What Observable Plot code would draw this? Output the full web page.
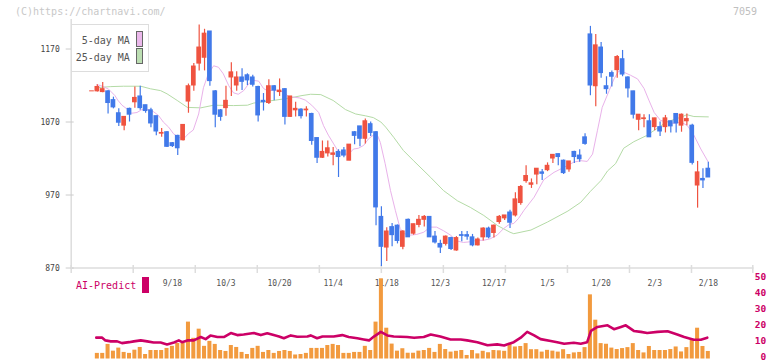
<!DOCTYPE html>
<html><head><meta charset="utf-8">
<script src="https://cdn.jsdelivr.net/npm/d3@7"></script>
<script src="https://cdn.jsdelivr.net/npm/@observablehq/plot@0.6"></script>
<style>
body{margin:0;background:#fff;}
#wrap{position:relative;width:772px;height:361px;overflow:hidden;font-family:"DejaVu Sans Mono",monospace;background:#fff;}
#wrap svg{position:absolute;left:0;top:0;}
.ov{position:absolute;z-index:3;white-space:pre;line-height:12px;}
</style></head><body>
<div id="wrap">
  <div class="ov" style="left:15px;top:6px;font-size:10px;color:#c8c8c8;">(C)https://chartnavi.com/</div>
  <div class="ov" style="right:15px;top:6px;font-size:10px;color:#c0c0c0;">7059</div>
  <div class="ov" style="left:70.5px;top:23.5px;width:78px;height:48px;box-sizing:border-box;border:1px solid #ddd;background:#fff;">
    <span style="position:absolute;right:17.7px;top:10px;font-size:10px;color:#555;line-height:12px;">5-day MA</span>
    <span style="position:absolute;right:17.7px;top:27px;font-size:10px;color:#555;line-height:12px;">25-day MA</span>
    <div style="position:absolute;left:64.5px;top:6.5px;width:7px;height:15.5px;box-sizing:border-box;border:1px solid #666;background:#ebb8eb;"></div>
    <div style="position:absolute;left:64.5px;top:23.8px;width:7px;height:15.5px;box-sizing:border-box;border:1px solid #666;background:#bcdeb2;"></div>
  </div>
  <div class="ov" style="left:76px;top:280px;font-size:10px;color:#cc0066;">AI-Predict</div>
  <div class="ov" style="left:142.3px;top:277.3px;width:6.7px;height:15.4px;background:#cc0066;"></div>
</div>
<script>
// ---- data ----
const openP = [1112,1112,1111,1112,1100,1082,1065,1088,1097,1105,
  1093,1086,1078,1054,1056,1041,1051,1045,1098,1120,
  1150,1158,1194,1112,1086,1089,1131,1120,1131,1134,
  1131,1118,1099,1096,1119,1111,1115,1077,1086,1087,
  1086,1081,1048,1021,1027,1025,1029,1031,1017,1056,
  1064,1047,1067,1056,940,898,926,928,899,936,
  917,929,936,940,913,903,903,911,894,915,
  915,912,901,912,924,918,933,938,946,942,
  959,989,984,998,1001,1004,1020,1026,1017,1005,
  1029,1024,1049,1190,1119,1172,1119,1137,1141,1156,
  1131,1112,1073,1074,1071,1063,1063,1063,1071,1081,
  1065,1071,1065,983,992,1006];
const highP = [1112,1121,1124,1113,1104,1088,1077,1089,1118,1119,
  1093,1089,1078,1061,1057,1042,1052,1066,1122,1150,
  1203,1197,1194,1113,1087,1119,1151,1139,1143,1136,
  1134,1119,1109,1128,1120,1129,1116,1105,1097,1088,
  1091,1082,1048,1044,1044,1035,1032,1035,1039,1057,
  1064,1074,1070,1057,954,925,931,929,921,937,
  930,942,942,940,920,908,914,912,913,920,
  920,916,911,925,926,929,942,942,949,973,
  983,1010,992,1006,1005,1014,1025,1026,1018,1016,
  1030,1032,1054,1201,1190,1179,1132,1140,1161,1168,
  1132,1112,1080,1080,1080,1075,1070,1079,1071,1081,
  1081,1081,1067,1016,1006,1015];
const lowP = [1112,1111,1110,1081,1088,1064,1058,1070,1089,1086,
  1082,1062,1051,1049,1035,1035,1024,1044,1082,1112,
  1140,1140,1119,1062,1071,1078,1105,1112,1113,1120,
  1118,1070,1085,1094,1099,1105,1066,1076,1077,1074,
  1077,1038,1013,1020,1022,1010,994,1021,1017,1039,
  1036,1040,1050,928,872,879,899,903,895,912,
  915,925,926,912,903,890,900,894,893,906,
  908,899,900,907,910,911,930,935,924,940,
  956,986,979,984,990,1002,1013,1010,998,1001,
  1013,1015,1038,1106,1091,1130,1108,1118,1130,1132,
  1103,1074,1058,1062,1049,1058,1050,1055,1055,1055,
  1056,1065,1011,952,979,994];
const closeP = [1112,1118,1115,1096,1090,1069,1077,1080,1103,1089,
  1085,1068,1057,1055,1036,1037,1034,1066,1119,1146,
  1172,1191,1126,1080,1077,1099,1138,1131,1125,1127,
  1121,1079,1097,1119,1113,1113,1077,1105,1088,1078,
  1087,1044,1021,1029,1034,1027,1022,1024,1039,1051,
  1047,1071,1055,953,899,920,915,907,920,912,
  930,936,940,912,905,898,913,896,911,914,
  913,901,909,924,912,928,940,942,932,964,
  981,996,986,1006,999,1010,1025,1022,1000,1016,
  1022,1019,1040,1120,1175,1137,1115,1132,1159,1135,
  1116,1080,1080,1075,1049,1075,1057,1075,1064,1068,
  1080,1074,1014,1001,990,994];
const volume = [null,3.5,3.5,9.1,4.9,6.8,4.1,3.5,5.5,7.2,
  2.8,5.3,5.3,5.3,6.6,7.9,9.7,9.7,23,12.9,
  18.6,7.9,11,9.1,5.3,4.7,8.4,7.2,4.1,2.8,
  6.6,7.9,4.1,5.3,3.5,4.7,5.3,4.7,2.5,2.8,
  3.5,6.6,6.6,6.6,8.4,9.1,8.4,3.5,3.5,4.1,
  4.1,7.9,5.3,23,50,19.2,9.3,4.9,6.4,3.6,
  3.6,4.9,5.3,6.6,4.1,9.1,5.9,4.3,4.8,5.3,
  2.2,5.3,3.2,4.8,3.9,5.3,5.1,4.8,9.4,7.5,
  7.8,9.6,5.8,5.8,4.3,5.4,4.9,4.3,5.8,2.8,
  3.8,4.1,7.1,40,24.2,9.6,9.2,6.8,5.9,6.5,
  7.1,9.6,5.3,3.8,7.8,5.3,5.3,5.3,5.9,7.5,
  4.4,7.1,12.2,19.2,7.8,4.7];
// moving averages (day position, value)
const ma5Day = [0.9,1.6,3.1,4.3,4.8,5.6,6.5,7.4,8.4,9.3,10.5,11.5,12.4,13.3,14.3,15.2,16.1,17.1,18,18.9,
  19.9,20.8,21.7,22.7,23.6,24.5,25.5,26.4,27.3,28.3,29.2,30.1,31.1,32,32.9,33.9,34.8,35.7,36.7,37.6,
  38.7,39.8,41,42.3,43.2,44.1,45.1,46,46.9,47.9,48.8,49.7,50.7,51.6,52.5,53.3,53.8,54.7,55.7,56.6,
  57.5,58.3,59.4,60.6,61.9,63.1,64.3,65.6,66.9,68.1,69.3,70.7,71.8,73.1,74.3,75.6,76.8,77.9,78.7,79.6,
  80.6,82.5,84.3,86.2,88.1,89.9,91.2,92.4,93.4,94.3,95.2,96.5,97.4,98.3,99.3,100.5,101.8,103,103.9,104.9,
  106.1,107.4,108.6,109.9,111.1,112.3,113.6,115];
const ma5 = [1121,1120,1115,1106,1100,1093,1088,1082,1083,1087,1087,1084,1079,1070,1063,1054,1049,1047,1054,1059,
  1081,1117,1136,1147,1145,1136,1120,1110,1108,1113,1122,1127,1126,1116,1112,1114,1113,1111,1105,1104,
  1103,1100,1093,1083,1065,1052,1040,1029,1026,1026,1033,1034,1038,1047,1052,1051,1042,1013,976,949,
  924,917,915,916,919,926,926,921,915,907,905,906,908,908,910,915,924,930,931,938,
  949,967,991,1001,1008,1015,1017,1016,1026,1058,1090,1113,1129,1140,1138,1134,1129,1116,1100,1083,
  1072,1070,1068,1070,1065,1052,1033,1015];
const ma25Day = [0.8,3.5,5.9,9.1,10.9,12.8,14,15.9,17.8,20.3,22.7,26.4,29,30.2,34.3,37,39,40.8,42.7,45,
  47.3,49.2,51,52.5,53.9,54.8,56.3,58.1,60,63.2,65.6,68.2,70.6,73.1,75.7,78,78.7,81.9,85,88.8,
  91.2,93,95,96.2,97.7,99.2,101.1,103.5,105.4,107.2,109.9,111,112.3,115];
const ma25 = [1117,1118.5,1119,1119,1115.5,1113,1108.6,1099.5,1090,1089.4,1093,1092.5,1093,1096,1100,1103,1106,1108,1107.5,1099.5,
  1087,1081,1078.5,1076,1070,1063,1049,1031,1017,994,976,962,953,942,928,919,917,922,933,948,
  960,975,990,1003,1013,1034,1043,1051.5,1061,1070,1076.6,1080,1077.5,1077];
const aiDay = [0.8,1.9,2.5,3.5,4.7,5.6,6.9,7.8,9.1,10.3,11.5,12.8,14,15.3,16.2,16.8,17.8,19,20.3,21.2,
  22.1,23.4,24.6,25.9,27.1,28.3,30.2,31.5,32.7,33.9,34.9,35.8,37.1,38.3,40.2,40.8,42,43,45.1,46.7,
  47.9,49.5,50.7,51.7,52.6,53.9,55.1,56.3,58.8,60.1,61.9,63.2,65,66.9,68.8,70,71.9,73.8,75.6,76.9,
  78.7,80,81.2,82.5,83.7,85.6,86.8,88.1,89.9,91.2,92.4,93.1,94.3,96.2,97.4,98.7,99.6,101.1,102.4,103.6,
  105.5,107.4,109.2,110.5,112.3,113.6,114.8];
const aiPredict = [13.3,13.3,11.6,11,11,9.9,10.5,11,11.6,11,10.3,10.3,9.1,10.3,11.6,10.5,11.6,11.6,13.7,12.4,
  14.6,13.7,13.7,16.2,14.9,15.3,16.2,14.9,16,14.9,14,12.9,14.7,13.9,14,14.7,12.9,14,14,14.9,
  13.7,12.9,12.2,11.6,14,16.9,14.7,14,13.7,13.2,13.7,15.3,14,12.2,12.2,11.6,10.5,8.6,9.1,8.4,
  10.5,13.3,16.9,14.7,12.4,11.2,10.5,9.5,10.1,9.5,10.5,17.5,20,21,18.6,20,21,17.5,16.9,16.2,
  16.9,17.3,15.3,13.7,12,12,13.3];
const yTicks = [870, 970, 1070, 1170];
const volTicks = [0, 10, 20, 30, 40, 50];
const dateLabels = ["9/18","10/3","10/20","11/4","11/18","12/3","12/17","1/5","1/20","2/3","2/18"];
const dateDay = [15,25,35,45,55,65,75,85,95,105,115];
const gridTickDay = [-3.88,7.69,19.27,30.84,42.42,53.99,65.56,77.14,88.71,100.29,111.86,123.3];

// ---- build ----
const candles = openP.map((o, i) => ({i, o, h: highP[i], l: lowP[i], c: closeP[i]}));
const up = candles.filter(d => d.c >= d.o);
const down = candles.filter(d => d.c < d.o);
const RED = "#ef5340", BLUE = "#4179e9";
const labelMap = new Map(dateDay.map((d, k) => [d, dateLabels[k]]));
const ma5Data = ma5.map((v, k) => ({d: ma5Day[k], v}));
const ma25Data = ma25.map((v, k) => ({d: ma25Day[k], v}));
const aiData = aiPredict.map((v, k) => ({d: aiDay[k], v}));
const volData = volume.map((v, i) => ({i, v})).filter(d => d.v != null);
const xDomain = [-3.88, 123.3];
const styleStr = "background:transparent;font-family:'DejaVu Sans Mono',monospace;overflow:visible;";

const body = (data, color) => Plot.rect(data, {
  x1: d => d.i - 0.44, x2: d => d.i + 0.44, y1: "o", y2: "c",
  fill: color, insetTop: -0.5, insetBottom: -0.5
});

const price = Plot.plot({
  width: 772, height: 361,
  marginLeft: 70.7, marginRight: 19.7, marginTop: 19.3, marginBottom: 93.5,
  style: styleStr,
  x: {domain: xDomain},
  y: {domain: [870, 1210]},
  marks: [
    Plot.frame({anchor: "left", stroke: "#dddddd", strokeWidth: 1.5}),
    Plot.frame({anchor: "bottom", stroke: "#dddddd", strokeWidth: 1.5}),
    Plot.axisY({ticks: yTicks, tickSize: 8, dx: 3, tickPadding: 6.5, tickFormat: d => String(d), label: null,
      stroke: "#cccccc", fill: "#444", fontSize: 8}),
    Plot.axisX({ticks: gridTickDay, tickSize: 8, dy: -2.5, tickFormat: () => "", label: null, stroke: "#dddddd", strokeWidth: 1.5}),
    Plot.axisX({ticks: dateDay, tickSize: 0, tickPadding: 12.8, tickFormat: d => labelMap.get(d), label: null, fill: "#555", fontSize: 8}),
    Plot.line(ma25Data, {x: "d", y: "v", stroke: "#b4dba6", strokeWidth: 1}),
    Plot.line(ma5Data, {x: "d", y: "v", stroke: "#e9b2ea", strokeWidth: 1}),
    Plot.ruleX(up, {x: "i", y1: "l", y2: "h", stroke: RED, strokeWidth: 1.2}),
    Plot.ruleX(down, {x: "i", y1: "l", y2: "h", stroke: BLUE, strokeWidth: 1.2}),
    body(up, RED),
    body(down, BLUE)
  ]
});

const vol = Plot.plot({
  width: 772, height: 361,
  marginLeft: 70.7, marginRight: 19.7, marginTop: 278.3, marginBottom: 2.5,
  style: styleStr,
  x: {domain: xDomain, axis: null},
  y: {domain: [0, 50]},
  marks: [
    Plot.rect(volData, {x1: d => d.i - 0.375, x2: d => d.i + 0.375, y1: 0, y2: "v", fill: "#f29a3e"}),
    Plot.line(aiData, {x: "d", y: "v", stroke: "#cc0066", strokeWidth: 2.6}),
    Plot.axisY({anchor: "right", ticks: volTicks, tickSize: 0, tickPadding: 13.4, textAnchor: "end", dy: -2,
      label: null, tickFormat: d => String(d), fill: "#cc0066", fontSize: 9.5, fontWeight: "bold"})
  ]
});

const wrap = document.getElementById("wrap");
wrap.insertBefore(vol, wrap.firstChild);
wrap.insertBefore(price, wrap.firstChild);
</script>
</body></html>
